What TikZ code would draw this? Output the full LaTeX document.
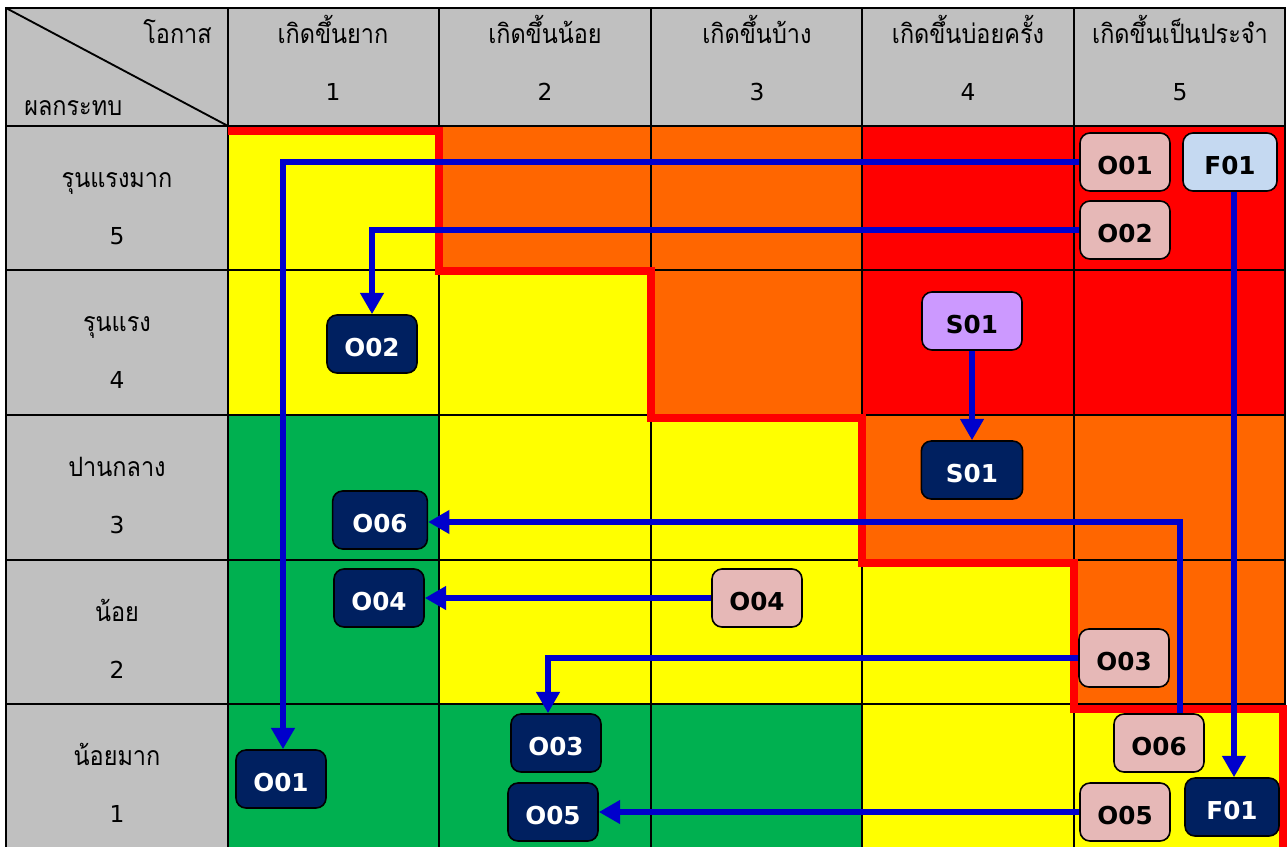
\documentclass[tikz,border=0pt]{standalone}
\usepackage{fontspec}
\usetikzlibrary{arrows.meta}
\newfontfamily\thaifont[Script=Thai, FakeStretch=0.88]{Loma}
\newfontfamily\digitfont{DejaVu Sans}
\newfontfamily\tagfont{DejaVu Sans}[BoldFont={DejaVu Sans Bold}]
\definecolor{hdrgray}{HTML}{C0C0C0}
\definecolor{lowgreen}{HTML}{00B050}
\definecolor{midyellow}{HTML}{FFFF00}
\definecolor{highorange}{HTML}{FF6600}
\definecolor{topred}{HTML}{FF0000}
\definecolor{navy}{HTML}{002060}
\definecolor{srcpink}{HTML}{E6B8B7}
\definecolor{srcblue}{HTML}{C5D9F1}
\definecolor{srcpurple}{HTML}{CC99FF}
\definecolor{linkblue}{HTML}{0000CC}
\tikzset{
  gridline/.style={draw=black, line width=1.4pt},
  thaitext/.style={font=\thaifont\fontsize{20}{22}\selectfont, inner sep=0pt},
  numtext/.style={font=\digitfont\fontsize{17.5}{20}\selectfont, inner sep=0pt},
  tag/.style={rounded corners=7.5pt, draw=black, line width=1.2pt,
    minimum width=67.5pt, minimum height=43.5pt, inner sep=0pt,
    text height=18pt, text depth=0pt,
    font=\tagfont\bfseries\fontsize{18.5}{18.5}\selectfont},
  src/.style={tag, fill=srcpink, text=black},
  dst/.style={tag, fill=navy, text=white},
  link/.style={draw=linkblue, line width=4.5pt,
    -{Triangle[width=17pt,length=16pt]}},
  zoneline/.style={draw=topred, line width=6pt, line join=miter},
}
\begin{document}
\begin{tikzpicture}[x=0.75pt, y=-0.75pt]
\useasboundingbox (0,0) rectangle (1287,846);
\clip (0,0) rectangle (1287,846);
\fill[white] (0,0) rectangle (1287,846);

% header row and first column
\fill[hdrgray] (6,8) rectangle (1285,126);
\fill[hdrgray] (6,126) rectangle (228,850);

% risk cells: columns x = 228,439,651,862,1074,1285 ; rows y = 126,270,415,560,704,850
% impact 5
\fill[midyellow]  (228,126) rectangle (439,270);
\fill[highorange] (439,126) rectangle (651,270);
\fill[highorange] (651,126) rectangle (862,270);
\fill[topred]     (862,126) rectangle (1074,270);
\fill[topred]     (1074,126) rectangle (1285,270);
% impact 4
\fill[midyellow]  (228,270) rectangle (439,415);
\fill[midyellow]  (439,270) rectangle (651,415);
\fill[highorange] (651,270) rectangle (862,415);
\fill[topred]     (862,270) rectangle (1074,415);
\fill[topred]     (1074,270) rectangle (1285,415);
% impact 3
\fill[lowgreen]   (228,415) rectangle (439,560);
\fill[midyellow]  (439,415) rectangle (651,560);
\fill[midyellow]  (651,415) rectangle (862,560);
\fill[highorange] (862,415) rectangle (1074,560);
\fill[highorange] (1074,415) rectangle (1285,560);
% impact 2
\fill[lowgreen]   (228,560) rectangle (439,704);
\fill[midyellow]  (439,560) rectangle (651,704);
\fill[midyellow]  (651,560) rectangle (862,704);
\fill[midyellow]  (862,560) rectangle (1074,704);
\fill[highorange] (1074,560) rectangle (1285,704);
% impact 1
\fill[lowgreen]   (228,704) rectangle (439,850);
\fill[lowgreen]   (439,704) rectangle (651,850);
\fill[lowgreen]   (651,704) rectangle (862,850);
\fill[midyellow]  (862,704) rectangle (1074,850);
\fill[midyellow]  (1074,704) rectangle (1285,850);

% grid
\foreach \gx in {228,439,651,862,1074}
  \draw[gridline] (\gx,8) -- (\gx,850);
\foreach \gy in {126,270,415,560,704}
  \draw[gridline] (6,\gy) -- (1285,\gy);
\draw[gridline, line width=2.2pt] (6,850) -- (6,8) -- (1285,8) -- (1285,850);
\draw[gridline] (6,8) -- (228,126);

% header texts
\node[thaitext, anchor=base east] (hprob) at (212,43) {โอกาส};
\node[thaitext, anchor=base west] (himp) at (24,115) {ผลกระทบ};
\node[thaitext, anchor=base] (c1) at (333,43) {เกิดขึ้นยาก};
\node[thaitext, anchor=base] (c2) at (545,43) {เกิดขึ้นน้อย};
\node[thaitext, anchor=base] (c3) at (757,43) {เกิดขึ้นบ้าง};
\node[thaitext, anchor=base] (c4) at (968,43) {เกิดขึ้นบ่อยครั้ง};
\node[thaitext, anchor=base] (c5) at (1180,43) {เกิดขึ้นเป็นประจำ};
\node[numtext, anchor=base] (n1) at (333,100) {1};
\node[numtext, anchor=base] (n2) at (545,100) {2};
\node[numtext, anchor=base] (n3) at (757,100) {3};
\node[numtext, anchor=base] (n4) at (968,100) {4};
\node[numtext, anchor=base] (n5) at (1180,100) {5};

\node[thaitext, anchor=base] (r5) at (117,187) {รุนแรงมาก};
\node[numtext, anchor=base] (m5) at (117,244) {5};
\node[thaitext, anchor=base] (r4) at (117,331) {รุนแรง};
\node[numtext, anchor=base] (m4) at (117,388) {4};
\node[thaitext, anchor=base] (r3) at (117,476) {ปานกลาง};
\node[numtext, anchor=base] (m3) at (117,533) {3};
\node[thaitext, anchor=base] (r2) at (117,621) {น้อย};
\node[numtext, anchor=base] (m2) at (117,678) {2};
\node[thaitext, anchor=base] (r1) at (117,765) {น้อยมาก};
\node[numtext, anchor=base] (m1) at (117,822) {1};

% acceptable-risk boundary
\draw[zoneline] (228,131) -- (439,131) -- (439,271) -- (651,271) -- (651,418)
  -- (862,418) -- (862,563) -- (1074,563) -- (1074,709) -- (1283,709) -- (1283,850);

% inherent risk positions
\node[src] (o01s) at (1125,162) {O01};
\node[src, fill=srcblue, minimum width=70.5pt] (f01s) at (1230,162) {F01};
\node[src] (o02s) at (1125,230) {O02};
\node[src, fill=srcpurple, minimum width=75pt] (s01s) at (972,321) {S01};
\node[src] (o04s) at (757,598) {O04};
\node[src] (o03s) at (1124,658) {O03};
\node[src] (o06s) at (1159,743) {O06};
\node[src] (o05s) at (1125,812) {O05};

% residual risk positions
\node[dst] (o02d) at (372,344) {O02};
\node[dst, minimum width=76pt] (s01d) at (972,470) {S01};
\node[dst, minimum width=71pt] (o06d) at (380,520) {O06};
\node[dst] (o04d) at (379,598) {O04};
\node[dst] (o01d) at (281,779) {O01};
\node[dst] (o03d) at (556,743) {O03};
\node[dst] (o05d) at (553,812) {O05};
\node[dst, minimum width=70.5pt] (f01d) at (1232,807) {F01};

% movements after treatment
\draw[link] (o01s.west) -| ([xshift=1.5pt]o01d.north);
\draw[link] (o02s.west) -| (o02d.north);
\draw[link] ([xshift=3pt]f01s.south) -- ([xshift=3pt]f01s.south |- f01d.north);
\draw[link] (s01s.south) -- (s01d.north);
\draw[link] ([xshift=15.75pt]o06s.north) |- ([yshift=-1.5pt]o06d.east);
\draw[link] (o04s.west) -- (o04d.east);
\draw[link] (o03s.west) -| ([xshift=-6pt]o03d.north);
\draw[link] (o05s.west) -- (o05d.east);
\end{tikzpicture}
\end{document}
